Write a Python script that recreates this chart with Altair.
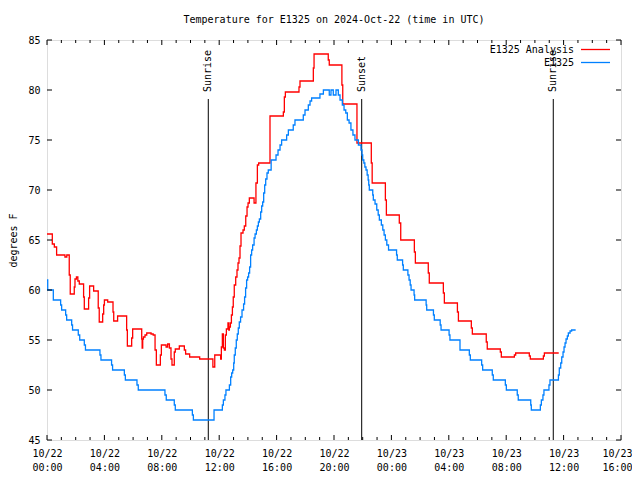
import altair as alt
import pandas as pd

# ---------------- data ----------------
# hours since 2024-10-22 00:00 UTC, step changes (step-after)
blue_hours = [0.00, 0.05, 0.44, 0.95, 1.02, 1.30, 1.37, 1.72, 1.78, 2.18, 2.28, 2.60, 2.68, 3.69, 3.76,
              4.50, 4.57, 5.39, 5.46, 6.27, 6.36, 8.22, 8.31, 8.87, 8.94, 10.13, 10.20, 11.64, 12.22,
              12.29, 12.40, 12.47, 12.71, 12.80, 12.87, 12.94, 13.01, 13.05, 13.12, 13.19, 13.26, 13.33,
              13.40, 13.49, 13.59, 13.70, 13.77, 13.84, 13.91, 13.98, 14.05, 14.12, 14.19, 14.26, 14.33,
              14.43, 14.50, 14.59, 14.66, 14.73, 14.80, 14.89, 14.96, 15.03, 15.10, 15.17, 15.24, 15.33,
              15.42, 15.62, 15.96, 16.10, 16.24, 16.35, 16.70, 16.82, 17.16, 17.28, 17.86, 17.98, 18.21,
              18.33, 18.44, 19.02, 19.26, 19.67, 19.79, 19.95, 20.14, 20.30, 20.42, 20.58, 20.70, 20.82,
              20.93, 21.05, 21.18, 21.32, 21.46, 21.70, 21.88, 21.95, 22.00, 22.08, 22.15, 22.23, 22.31,
              22.38, 22.42, 22.46, 22.70, 22.74, 22.86, 22.98, 23.08, 23.16, 23.30, 23.40, 23.49, 23.58,
              23.68, 23.80, 24.36, 24.41, 24.78, 24.83, 25.15, 25.23, 25.31, 25.37, 25.58, 25.62, 26.42,
              26.46, 26.93, 26.99, 27.40, 27.46, 28.02, 28.08, 28.78, 29.43, 29.50, 30.29, 30.36, 31.03,
              31.10, 31.94, 32.01, 32.77, 32.84, 33.71, 33.75, 34.38, 34.45, 34.56, 34.63, 34.98, 35.05,
              35.64, 35.70, 35.80, 35.87, 35.96, 36.03, 36.10, 36.17, 36.26, 36.33, 36.45, 36.56, 36.84]
blue_temps = [61.0, 60.0, 59.0, 58.5, 58.0, 57.5, 57.0, 56.5, 56.0, 55.5, 55.0, 54.5, 54.0, 53.5, 53.0,
              52.5, 52.0, 51.5, 51.0, 50.5, 50.0, 49.5, 49.0, 48.5, 48.0, 47.5, 47.0, 48.0, 48.5,
              49.0, 49.5, 50.0, 50.5, 51.3, 51.7, 52.0, 52.7, 53.5, 54.2, 55.0, 55.6, 56.2,
              56.8, 57.3, 58.0, 58.6, 59.3, 60.2, 61.0, 61.3, 61.7, 62.3, 63.5, 64.0, 64.5,
              65.2, 65.6, 66.0, 66.4, 66.8, 67.1, 67.8, 68.4, 68.8, 69.7, 70.5, 71.1, 71.7,
              72.0, 73.0, 73.5, 74.0, 74.5, 75.0, 75.5, 76.0, 76.5, 77.0, 77.5, 78.0, 78.5,
              78.9, 79.2, 79.6, 80.0, 79.5, 80.0, 79.5, 80.0, 79.5, 79.0, 78.5, 78.0, 77.7,
              77.0, 76.7, 76.0, 75.5, 75.0, 74.5, 74.0, 73.5, 73.0, 72.7, 72.3, 72.0, 71.5,
              71.0, 70.5, 70.0, 69.5, 69.0, 68.6, 68.0, 67.5, 67.0, 66.5, 66.0, 65.5, 65.0,
              64.5, 64.0, 63.5, 63.0, 62.5, 62.0, 61.5, 61.0, 60.5, 60.0, 59.5, 59.0, 58.5,
              58.0, 57.5, 57.0, 56.5, 56.0, 55.5, 55.0, 54.0, 53.5, 53.0, 52.5, 52.0, 51.5,
              51.0, 50.5, 50.0, 49.5, 49.0, 48.5, 48.0, 48.5, 49.0, 49.5, 50.0, 50.5, 51.0,
              51.5, 52.2, 52.7, 53.3, 53.8, 54.3, 54.7, 55.1, 55.4, 55.7, 55.9, 56.0, 56.0]

red_hours = [0.00, 0.37, 0.51, 0.67, 1.25, 1.38, 1.55, 1.62, 1.90, 1.95, 2.05, 2.15, 2.25, 2.55, 2.60,
             2.90, 2.97, 3.25, 3.57, 3.64, 3.88, 3.95, 4.00, 4.23, 4.60, 4.65, 4.92, 5.55, 5.60, 5.90,
             5.97, 6.60, 6.63, 6.67, 6.72, 6.83, 6.95, 7.25, 7.40, 7.53, 7.62, 7.90, 7.97, 8.30, 8.41,
             8.53, 8.64, 8.71, 8.87, 8.94, 9.22, 9.57, 9.66, 9.94, 10.64, 11.56, 11.69, 12.10, 12.15,
             12.22, 12.29, 12.36, 12.43, 12.50, 12.61, 12.67, 12.71, 12.78, 12.85, 12.92, 12.98, 13.05,
             13.15, 13.24, 13.31, 13.38, 13.45, 13.52, 13.66, 13.75, 13.85, 13.94, 14.01, 14.10, 14.43,
             14.56, 14.66, 14.75, 15.54, 16.47, 16.54, 16.61, 17.56, 17.63, 18.56, 18.61, 19.60, 19.67,
             20.55, 20.61, 21.60, 22.60, 22.66, 23.58, 23.65, 24.55, 24.65, 25.60, 25.67, 26.57, 26.64,
             27.62, 27.69, 28.60, 28.67, 29.57, 29.64, 30.61, 30.68, 31.59, 31.66, 32.57, 32.66, 33.61,
             33.68, 34.59, 34.66, 35.66]
red_temps = [65.6, 64.6, 64.3, 63.5, 63.3, 63.5, 61.5, 59.6, 60.3, 61.1, 61.3, 60.9, 60.6, 59.3, 58.1,
             59.2, 60.4, 59.9, 58.2, 56.8, 57.6, 58.5, 59.0, 58.8, 57.8, 56.9, 57.4, 56.0, 54.4, 55.2,
             56.1, 55.1, 54.2, 55.1, 55.3, 55.5, 55.7, 55.6, 55.5, 54.0, 52.5, 53.5, 54.5, 54.3, 54.6,
             54.2, 53.1, 52.5, 53.8, 54.1, 54.4, 54.0, 53.6, 53.3, 53.1, 52.3, 53.5, 53.1, 54.3,
             55.6, 54.2, 54.0, 55.5, 56.1, 56.7, 56.0, 56.3, 56.7, 57.5, 58.3, 59.3, 60.5,
             61.3, 62.0, 62.7, 63.2, 64.4, 65.7, 66.0, 66.4, 67.4, 68.3, 68.7, 69.2, 68.7,
             70.7, 72.5, 72.7, 77.4, 77.8, 79.3, 79.8, 80.3, 80.9, 82.2, 83.6, 83.0, 82.5,
             80.5, 78.6, 74.7, 72.7, 70.7, 69.0, 67.5, 66.7, 65.0, 63.8, 62.7, 61.7, 60.7,
             59.7, 58.7, 57.8, 56.9, 56.2, 55.6, 54.8, 54.1, 53.8, 53.3, 53.5, 53.7, 53.4,
             53.1, 53.4, 53.7, 53.7]

sun_hours = [11.24, 21.93, 35.28]
sun_labels = ["Sunrise", "Sunset", "Sunrise"]
sun_line_top = 79.1

series_names = ["E1325 Analysis", "E1325"]
series_colors = ["#ff0000", "#0080ff"]

day_labels = ["10/22", "10/23"]
x_major = list(range(0, 41, 4))
x_minor = [h for h in range(0, 41) if h % 4]
y_major = list(range(45, 86, 5))

title_text = "Temperature for E1325 on 2024-Oct-22 (time in UTC)"
y_title = "degrees F"

FONT = "DejaVu Sans Mono"
W, H = 574, 400

# ---------------- scales / axes ----------------
xscale = alt.Scale(domain=[0, 40], nice=False, zero=False)
yscale = alt.Scale(domain=[45, 85], nice=False, zero=False)

label_expr = ("[datum.value < 24 ? '%s' : '%s', format(datum.value %% 24, '02d') + ':00']"
              % (day_labels[0], day_labels[1]))

xaxis = alt.Axis(values=x_major, labelExpr=label_expr, ticks=False, domain=False, grid=False,
                 title=None, labelFont=FONT, labelFontSize=10, labelColor="black",
                 labelPadding=8, labelLineHeight=14, labelFlush=False, labelOverlap=False,
                 labelBaseline="top",
                 labelOffset={"condition": {"test": "datum.value === %d" % x_major[-1], "value": -4},
                              "value": 0})
yaxis = alt.Axis(values=y_major, ticks=False, domain=False, grid=False, labelFont=FONT,
                 labelFontSize=10, labelColor="black", labelPadding=7, title=y_title,
                 titleFont=FONT, titleFontSize=10, titleFontWeight="normal", titleColor="black",
                 titleAngle=270, titleX=-34, titleY=H / 2, titleAlign="center",
                 titleBaseline="middle")


def X(field):
    return alt.X(f"{field}:Q", scale=xscale, axis=xaxis)


def Y(field):
    return alt.Y(f"{field}:Q", scale=yscale, axis=yaxis)


red_df = pd.DataFrame({"hour": red_hours, "temp": red_temps})
blue_df = pd.DataFrame({"hour": blue_hours, "temp": blue_temps})
sun_df = pd.DataFrame({"hour": sun_hours, "label": sun_labels,
                       "bottom": [45] * len(sun_hours), "top": [sun_line_top] * len(sun_hours)})

red_line = alt.Chart(red_df).mark_line(interpolate="step-after", color=series_colors[0],
                                       strokeWidth=1.3).encode(x=X("hour"), y=Y("temp"))
blue_line = alt.Chart(blue_df).mark_line(interpolate="step-after", color=series_colors[1],
                                         strokeWidth=1.3).encode(x=X("hour"), y=Y("temp"))

sun_rule = alt.Chart(sun_df).mark_rule(color="black", strokeWidth=1).encode(
    x=X("hour"), y=Y("bottom"), y2="top")
sun_text = alt.Chart(sun_df).mark_text(angle=270, align="left", baseline="middle", dx=7,
                                       font=FONT, fontSize=10, color="black").encode(
    x=X("hour"), y=Y("top"), text="label:N")

# tick marks (inward, on all four sides)
xmaj_df = pd.DataFrame({"hour": x_major})
xmin_df = pd.DataFrame({"hour": x_minor})
y_df = pd.DataFrame({"temp": y_major})
MAJ, MIN = 5, 3
ticks = [
    alt.Chart(xmaj_df).mark_rule(color="black").encode(x=X("hour"), y=alt.value(H), y2=alt.value(H - MAJ)),
    alt.Chart(xmaj_df).mark_rule(color="black").encode(x=X("hour"), y=alt.value(0), y2=alt.value(MAJ)),
    alt.Chart(xmin_df).mark_rule(color="black").encode(x=X("hour"), y=alt.value(H), y2=alt.value(H - MIN)),
    alt.Chart(xmin_df).mark_rule(color="black").encode(x=X("hour"), y=alt.value(0), y2=alt.value(MIN)),
    alt.Chart(y_df).mark_rule(color="black").encode(y=Y("temp"), x=alt.value(0), x2=alt.value(MAJ)),
    alt.Chart(y_df).mark_rule(color="black").encode(y=Y("temp"), x=alt.value(W), x2=alt.value(W - MAJ)),
]

# key in the top-right corner (label, then line sample)
one = alt.Data(values=[{}])
legend = []
for i, (name, col) in enumerate(zip(series_names, series_colors)):
    yy = 9.5 + 13 * i
    legend.append(alt.Chart(one).mark_text(align="right", baseline="middle", font=FONT,
                                           fontSize=10, color="black").encode(
        x=alt.value(527), y=alt.value(yy), text=alt.value(name)))
    legend.append(alt.Chart(one).mark_rule(color=col, strokeWidth=1.3).encode(
        x=alt.value(534), x2=alt.value(563), y=alt.value(yy)))

# chart title, centred above the plot
title_layer = alt.Chart(one).mark_text(align="center", baseline="alphabetic", font=FONT,
                                       fontSize=10, color="black").encode(
    x=alt.value(W / 2), y=alt.value(-17), text=alt.value(title_text))

chart = alt.layer(sun_rule, red_line, blue_line, sun_text, *ticks, *legend, title_layer).properties(
    width=W, height=H,
    autosize=alt.AutoSizeParams(type="none"),
    padding={"left": 39, "top": 32, "right": 11, "bottom": 32},
).configure_view(stroke="black", strokeWidth=1).configure(background="white")

chart.save("out.html", embed_options={"renderer": "svg", "actions": False})
